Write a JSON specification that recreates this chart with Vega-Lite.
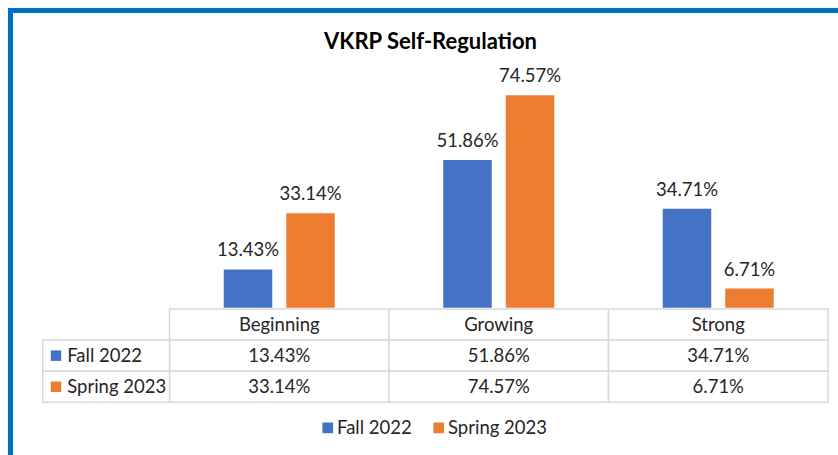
{
  "$schema": "https://vega.github.io/schema/vega-lite/v6.json",
  "width": 900,
  "height": 500,
  "autosize": {"type": "none"},
  "padding": {"left": 10.5, "top": 10.5, "right": -72.5, "bottom": -55.5},
  "background": "white",
  "config": {
    "font": "Lato",
    "view": {"stroke": "#0070C0", "strokeWidth": 5, "fill": "white"}
  },
  "title": {
    "text": "VKRP Self-Regulation",
    "fontSize": 22,
    "fontWeight": "bold",
    "color": "#000000",
    "anchor": "middle",
    "dx": -30,
    "offset": -43
  },
  "data": {
    "values": [
      {"category": "Beginning", "series": "Fall 2022", "value": 0.1343},
      {"category": "Beginning", "series": "Spring 2023", "value": 0.3314},
      {"category": "Growing", "series": "Fall 2022", "value": 0.5186},
      {"category": "Growing", "series": "Spring 2023", "value": 0.7457},
      {"category": "Strong", "series": "Fall 2022", "value": 0.3471},
      {"category": "Strong", "series": "Spring 2023", "value": 0.0671}
    ]
  },
  "resolve": {"scale": {"x": "independent", "y": "independent"}},
  "layer": [
    {
      "encoding": {
        "x": {"field": "category", "type": "nominal", "axis": null, "sort": null,
          "scale": {"domain": ["Beginning", "Growing", "Strong"], "range": [159, 817.5], "paddingInner": 0, "paddingOuter": 0}},
        "xOffset": {"field": "series", "type": "nominal", "sort": null,
          "scale": {"domain": ["Fall 2022", "Spring 2023"], "paddingInner": 0.224, "paddingOuter": 0.868}},
        "y": {"field": "value", "type": "quantitative", "axis": null,
          "scale": {"domain": [0, 0.8], "range": [297.2, 69.2], "nice": false, "zero": true}},
        "color": {"field": "series", "type": "nominal",
          "scale": {"domain": ["Fall 2022", "Spring 2023"], "range": ["#4472C4", "#ED7D31"]},
          "legend": {"orient": "none", "legendX": 308, "legendY": 408, "direction": "horizontal", "title": null,
            "symbolType": "square", "symbolSize": 115, "symbolStrokeWidth": 0, "labelFontSize": 18.5,
            "labelColor": "#262626", "columnPadding": 17, "labelOffset": 0, "padding": 0}}
      },
      "layer": [
        {"mark": {"type": "bar"}},
        {"mark": {"type": "text", "baseline": "alphabetic", "dy": -13, "fontSize": 18.5},
          "encoding": {"text": {"field": "value", "type": "quantitative", "format": ".2%"}, "color": {"value": "#262626"}}}
      ]
    },
    {
      "encoding": {
        "x": {"field": "category", "type": "nominal", "axis": null, "sort": null,
          "scale": {"domain": ["Beginning", "Growing", "Strong"], "range": [159, 817.5], "paddingInner": 0, "paddingOuter": 0}}
      },
      "layer": [
        {
          "transform": [{"filter": "datum.series == 'Fall 2022'"}],
          "mark": {"type": "rect", "fill": "white", "stroke": "#D9D9D9", "strokeWidth": 1.5},
          "encoding": {"y": {"datum": "header", "type": "nominal", "axis": null,
            "scale": {"domain": ["header", "Fall 2022", "Spring 2023"], "range": [298.5, 391.8], "paddingInner": 0, "paddingOuter": 0}}}
        },
        {
          "transform": [{"filter": "datum.series == 'Fall 2022'"}],
          "mark": {"type": "text", "baseline": "middle", "fontSize": 18.5, "color": "#262626"},
          "encoding": {"y": {"datum": "header", "type": "nominal", "axis": null}, "text": {"field": "category"}}
        },
        {
          "mark": {"type": "rect", "fill": "white", "stroke": "#D9D9D9", "strokeWidth": 1.5},
          "encoding": {"y": {"field": "series", "type": "nominal", "axis": null}}
        },
        {
          "mark": {"type": "text", "baseline": "middle", "fontSize": 18.5, "color": "#262626"},
          "encoding": {"y": {"field": "series", "type": "nominal", "axis": null}, "text": {"field": "value", "type": "quantitative", "format": ".2%"}}
        }
      ]
    },
    {
      "transform": [{"filter": "datum.category == 'Beginning'"}],
      "encoding": {
        "x": {"datum": "label", "type": "nominal", "axis": null, "bandPosition": 0,
          "scale": {"domain": ["label"], "range": [32.2, 159], "paddingInner": 0, "paddingOuter": 0}},
        "y": {"field": "series", "type": "nominal", "axis": null,
          "scale": {"domain": ["header", "Fall 2022", "Spring 2023"], "range": [298.5, 391.8], "paddingInner": 0, "paddingOuter": 0}}
      },
      "layer": [
        {"mark": {"type": "rect", "fill": "white", "stroke": "#D9D9D9", "strokeWidth": 1.5},
          "encoding": {"x": {"datum": "label", "type": "nominal", "axis": null}}},
        {"mark": {"type": "point", "shape": "square", "filled": true, "size": 110, "opacity": 1, "xOffset": 13.3},
          "encoding": {"color": {"field": "series", "type": "nominal"}}},
        {"mark": {"type": "text", "align": "left", "baseline": "middle", "dx": 24.5, "fontSize": 18.5, "color": "#262626"},
          "encoding": {"text": {"field": "series"}}}
      ]
    }
  ]
}
